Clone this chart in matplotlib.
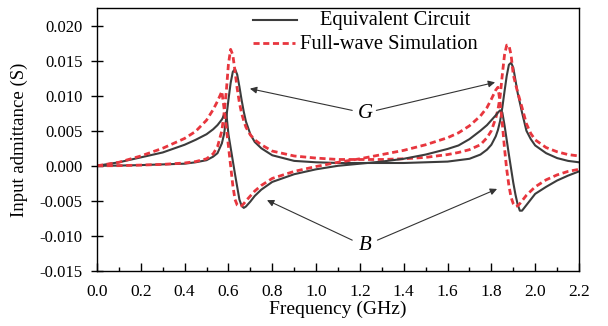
import matplotlib
matplotlib.use("Agg")
import matplotlib.pyplot as plt
from matplotlib.ticker import MultipleLocator, FormatStrFormatter

plt.rcParams['font.family'] = ['Liberation Serif', 'DejaVu Serif']

# frequency samples (GHz)
freq = [0.0, 0.1, 0.2, 0.3, 0.4, 0.45, 0.5, 0.53, 0.55, 0.57, 0.58, 0.59, 0.60,
        0.61, 0.62, 0.63, 0.64, 0.65, 0.66, 0.67, 0.68, 0.70, 0.72, 0.75, 0.8,
        0.9, 1.0, 1.1, 1.2, 1.3, 1.4, 1.5, 1.6, 1.65, 1.7, 1.75, 1.78, 1.80,
        1.82, 1.83, 1.84, 1.85, 1.86, 1.87, 1.88, 1.89, 1.90, 1.91, 1.92, 1.93,
        1.94, 1.96, 1.98, 2.0, 2.05, 2.1, 2.15, 2.2]

# equivalent circuit: conductance G and susceptance B (S)
g_circuit = [0.0, 0.00003, 0.0001, 0.0002, 0.0003, 0.0005, 0.0008, 0.0013, 0.0018,
             0.0032, 0.0045, 0.0068, 0.0094, 0.0118, 0.0134, 0.0138, 0.0130, 0.0113,
             0.0094, 0.0077, 0.0063, 0.0045, 0.0034, 0.0025, 0.0015, 0.0007, 0.0005,
             0.0004, 0.0004, 0.0004, 0.0004, 0.0005, 0.0006, 0.0008, 0.0010, 0.0016,
             0.0023, 0.0030, 0.0042, 0.0051, 0.0064, 0.0083, 0.0106, 0.0128, 0.0144,
             0.0147, 0.0140, 0.0122, 0.0104, 0.0090, 0.0076, 0.0050, 0.0038, 0.0029,
             0.0018, 0.0011, 0.0007, 0.0005]
b_circuit = [0.0, 0.0005, 0.0012, 0.0019, 0.0030, 0.0037, 0.0045, 0.0052, 0.0058,
             0.0066, 0.0072, 0.0076, 0.0045, 0.0026, 0.0007, -0.0012, -0.0030, -0.0048,
             -0.0057, -0.0060, -0.0058, -0.0051, -0.0043, -0.0034, -0.0023, -0.0012,
             -0.0005, 0.0000, 0.0003, 0.0006, 0.0010, 0.0016, 0.0024, 0.0029, 0.0038,
             0.0050, 0.0058, 0.0065, 0.0072, 0.0076, 0.0079, 0.0076, 0.0058, 0.0037,
             0.0016, -0.0004, -0.0024, -0.0041, -0.0055, -0.0064, -0.0064, -0.0056,
             -0.0048, -0.0040, -0.0030, -0.0021, -0.0014, -0.0008]

# full-wave simulation: conductance G and susceptance B (S)
g_sim = [0.0, 0.00002, 0.0001, 0.0002, 0.0004, 0.0006, 0.0010, 0.0017, 0.0027,
         0.0050, 0.0075, 0.0105, 0.0145, 0.0166, 0.0158, 0.0135, 0.0110, 0.0090,
         0.0075, 0.0064, 0.0055, 0.0044, 0.0037, 0.0030, 0.0021, 0.0014, 0.0011,
         0.0009, 0.0009, 0.0009, 0.0010, 0.0012, 0.0016, 0.0019, 0.0023, 0.0030,
         0.0040, 0.0050, 0.0068, 0.0080, 0.0099, 0.0130, 0.0158, 0.0172, 0.0172,
         0.0158, 0.0130, 0.0117, 0.0105, 0.0094, 0.0083, 0.0060, 0.0046, 0.0037,
         0.0026, 0.0020, 0.0016, 0.0014]
b_sim = [0.0, 0.0005, 0.0014, 0.0025, 0.0039, 0.0049, 0.0065, 0.0080, 0.0092,
         0.0106, 0.0082, 0.0055, 0.0028, 0.0000, -0.0028, -0.0048, -0.0056, -0.0058,
         -0.0057, -0.0054, -0.0050, -0.0043, -0.0036, -0.0028, -0.0018, -0.0008,
         -0.0001, 0.0005, 0.0010, 0.0016, 0.0022, 0.0030, 0.0040, 0.0047, 0.0057,
         0.0071, 0.0083, 0.0095, 0.0108, 0.0112, 0.0090, 0.0060, 0.0025, -0.0005,
         -0.0028, -0.0045, -0.0054, -0.0058, -0.0057, -0.0054, -0.0050, -0.0042,
         -0.0036, -0.0030, -0.0020, -0.0013, -0.0008, -0.0005]

fig = plt.figure(figsize=(6.08, 3.26), dpi=100)
ax = fig.add_axes([0.1595, 0.1687, 0.7928, 0.8068])

solid_c = '#3c3c3c'
red_c = '#e8363e'
dash = (0, (2.2, 1.3))

ax.plot(freq, g_circuit, color=solid_c, lw=1.5)
ax.plot(freq, g_sim, color=red_c, lw=2, linestyle=dash)
ax.plot(freq, b_circuit, color=solid_c, lw=1.5)
ax.plot(freq, b_sim, color=red_c, lw=2, linestyle=dash)

ax.set_xlim(0, 2.2)
ax.set_ylim(-0.015, 0.0225)
ax.xaxis.set_major_locator(MultipleLocator(0.2))
ax.xaxis.set_minor_locator(MultipleLocator(0.1))
ax.yaxis.set_major_locator(MultipleLocator(0.005))
ax.xaxis.set_major_formatter(FormatStrFormatter('%.1f'))
ax.yaxis.set_major_formatter(FormatStrFormatter('%.3f'))
ax.tick_params(axis='x', which='major', direction='in', length=6, width=1, labelsize=12.5, pad=9)
ax.tick_params(axis='x', which='minor', direction='in', length=3, width=1)
ax.tick_params(axis='y', which='major', direction='inout', length=9, width=1, labelsize=12, pad=6)
for s in ax.spines.values():
    s.set_linewidth(1)

ax.set_xlabel('Frequency (GHz)', fontsize=14, labelpad=1)
ax.set_ylabel('Input admittance (S)', fontsize=13.5, labelpad=8)

# legend drawn by hand (handle lines + labels)
ax.plot([0.3237, 0.415], [0.9525, 0.9525], transform=ax.transAxes, color=solid_c, lw=1.5)
ax.plot([0.3237, 0.410], [0.865, 0.865], transform=ax.transAxes, color=red_c, lw=2, linestyle=dash)
ax.text(0.4627, 0.9525, 'Equivalent Circuit', transform=ax.transAxes, fontsize=14.8, va='center')
ax.text(0.4215, 0.862, 'Full-wave Simulation', transform=ax.transAxes, fontsize=14.8, va='center')

# annotations
arrow = dict(arrowstyle='-|>', color='#333333', lw=0.8, mutation_scale=10, shrinkA=0, shrinkB=0)
ax.text(1.223, 0.0074, 'G', fontsize=15, fontstyle='italic', ha='center', va='center')
ax.annotate('', xy=(0.698, 0.0110), xytext=(1.165, 0.0079), arrowprops=arrow)
ax.annotate('', xy=(1.817, 0.0119), xytext=(1.275, 0.0079), arrowprops=arrow)
ax.text(1.223, -0.0113, 'B', fontsize=15, fontstyle='italic', ha='center', va='center')
ax.annotate('', xy=(0.776, -0.0049), xytext=(1.165, -0.0106), arrowprops=arrow)
ax.annotate('', xy=(1.826, -0.0033), xytext=(1.28, -0.0106), arrowprops=arrow)

fig.savefig('out.png', dpi=100)
